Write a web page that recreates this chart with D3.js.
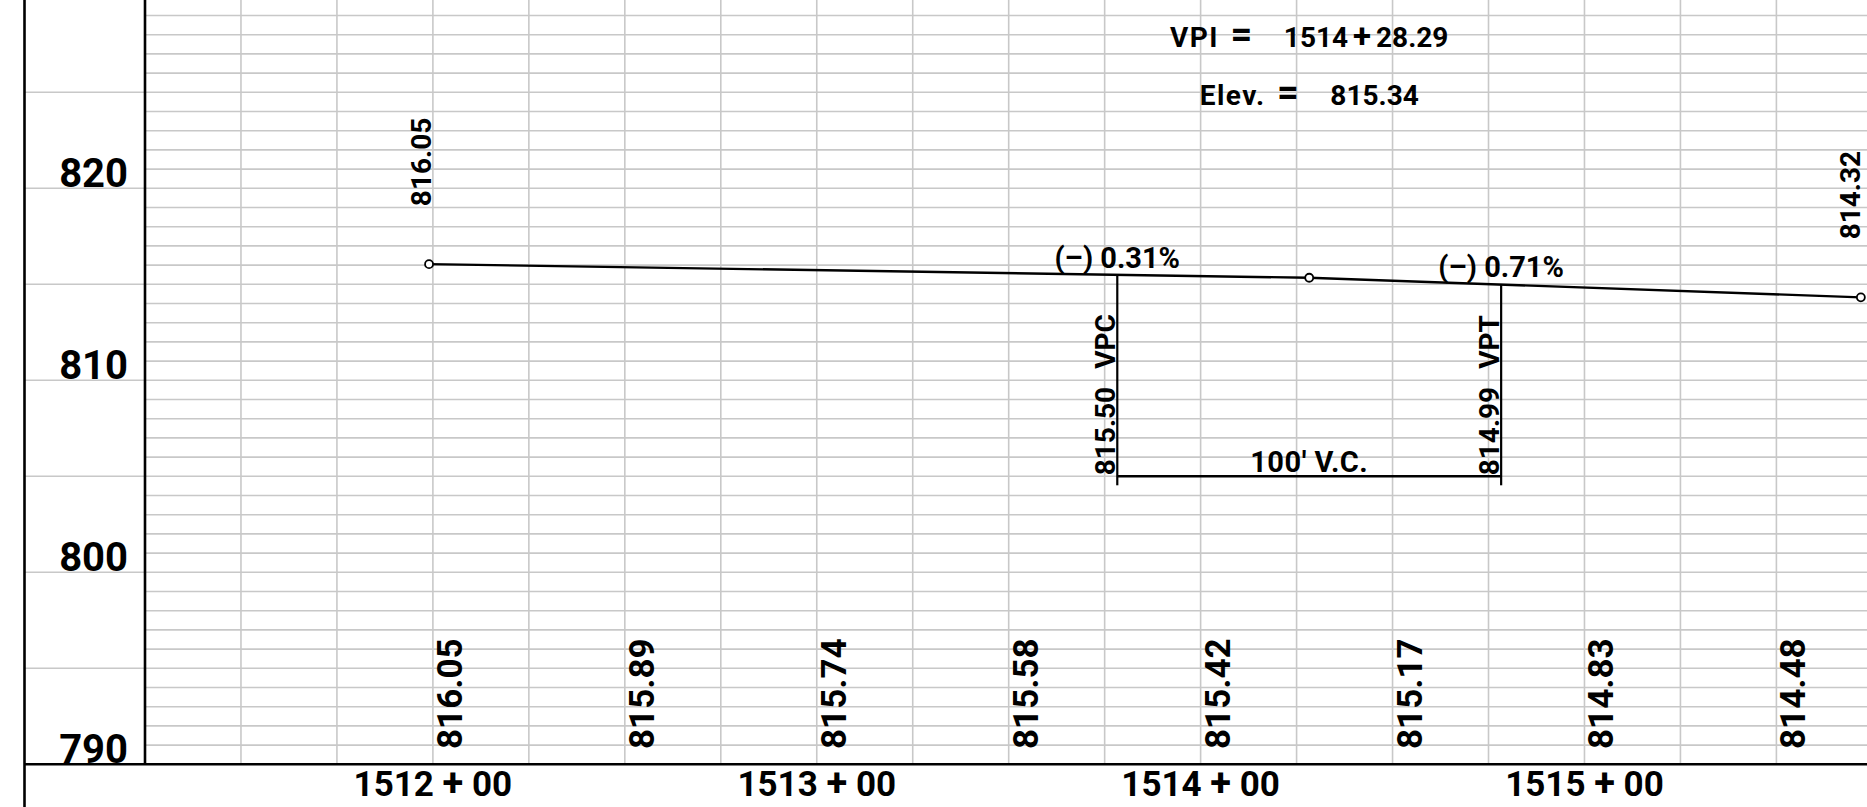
<!DOCTYPE html>
<html>
<head>
<meta charset="utf-8">
<script src="https://cdn.jsdelivr.net/npm/d3@7"></script>
<style>
    html, body { margin: 0; padding: 0; background: #fff; overflow: hidden; }
    text { font-family: Roboto, "Liberation Sans", sans-serif; font-weight: 700; fill: #000; }
</style>
</head>
<body>
<div id="chart"></div>
<script>
// elevation axis
var elevTicks = [790, 800, 810, 820];
// station axis (feet), labels as printed
var stationTicks = [151200, 151300, 151400, 151500];
var stationLabels = ["1512 + 00", "1513 + 00", "1514 + 00", "1515 + 00"];
// grade line: begin, VPI, end
var gradeStations = [151199, 151428.29, 151572];
var gradeElevs = [816.05, 815.34, 814.32];
var endLabels = ["816.05", "814.32"];
// vertical curve
var curveStations = [151378.29, 151478.29];
var curveElevs = [815.50, 814.99];
var curveNames = ["VPC", "VPT"];
var curveElevLabels = ["815.50", "814.99"];
var gradeLabels = ["(–) 0.31%", "(–) 0.71%"];
var curveLengthLabel = "100′ V.C.";
var vpiTitles = ["VPI =", "Elev. ="];
var vpiValues = ["1514 + 28.29", "815.34"];
// profile grade elevations every 50 ft
var profileStations = [151200, 151250, 151300, 151350, 151400, 151450, 151500, 151550];
var profileElevs = ["816.05", "815.89", "815.74", "815.58", "815.42", "815.17", "814.83", "814.48"];

(function() {
    var width = 1867, height = 807;
    var borderX = 24.5, axisX = 145;

    var x = d3.scaleLinear().domain([151125, 151573.6]).range([axisX, width]);
    var y = d3.scaleLinear().domain([790, 830]).range([764.3, -3.7]);

    var svg = d3.select("#chart")
        .append("svg")
        .attr("width", width)
        .attr("height", height)
        .style("display", "block");

    svg.append("rect")
        .attr("width", width)
        .attr("height", height)
        .attr("fill", "#fff");

    // write a label with its + / = a little larger, like the drafting font
    function addParts(textSel, str, symSize) {
        str.split(/([+=])/).forEach(function(p) {
            if (p === "") return;
            var t = textSel.append("tspan").text(p);
            if (p === "+" || p === "=") {
                t.style("font-size", symSize + "px");
            }
        });
    }

    // horizontal grid, one foot apart, every 5 ft runs to the border
    var hLines = d3.range(791, 830);
    svg.append("g").selectAll("line")
        .data(hLines)
        .enter()
        .append("line")
        .attr("x1", function(d) { return d % 5 === 0 ? borderX : axisX; })
        .attr("x2", width)
        .attr("y1", function(d) { return y(d); })
        .attr("y2", function(d) { return y(d); })
        .attr("stroke", "#c8c8c8")
        .attr("stroke-width", 1.6);

    // vertical grid every 25 ft
    var vLines = d3.range(151150, 151573, 25);
    svg.append("g").selectAll("line")
        .data(vLines)
        .enter()
        .append("line")
        .attr("x1", function(d) { return x(d); })
        .attr("x2", function(d) { return x(d); })
        .attr("y1", 0)
        .attr("y2", y(790))
        .attr("stroke", "#c8c8c8")
        .attr("stroke-width", 1.6);

    // frame lines
    var frame = svg.append("g").attr("stroke", "#000").attr("stroke-width", 2.6);
    frame.append("line").attr("x1", borderX).attr("x2", borderX).attr("y1", 0).attr("y2", height);
    frame.append("line").attr("x1", axisX).attr("x2", axisX).attr("y1", 0).attr("y2", y(790));
    frame.append("line").attr("x1", borderX).attr("x2", width).attr("y1", y(790)).attr("y2", y(790));

    // elevation labels
    svg.append("g").selectAll("text")
        .data(elevTicks)
        .enter()
        .append("text")
        .attr("x", 128)
        .attr("y", function(d) { return y(d) - 1.5; })
        .attr("text-anchor", "end")
        .style("font-size", "40px")
        .text(function(d) { return d; });

    // station labels
    svg.append("g").selectAll("text")
        .data(stationTicks)
        .enter()
        .append("text")
        .attr("x", function(d) { return x(d); })
        .attr("y", 796)
        .attr("text-anchor", "middle")
        .style("font-size", "35px")
        .style("white-space", "pre")
        .each(function(d, i) { addParts(d3.select(this), stationLabels[i], 38); });

    // profile elevations along the bottom
    svg.append("g").selectAll("text")
        .data(profileStations)
        .enter()
        .append("text")
        .attr("transform", function(d) {
            return "translate(" + (x(d) + 29) + "," + 749 + ") rotate(-90)";
        })
        .style("font-size", "35px")
        .text(function(d, i) { return profileElevs[i]; });

    // vertical curve: VPC / VPT legs and the length dimension
    var dimElev = 805;
    var curve = svg.append("g").attr("stroke", "#000").attr("stroke-width", 2.2);
    curve.selectAll(".leg")
        .data(curveStations)
        .enter()
        .append("line")
        .attr("class", "leg")
        .attr("x1", function(d) { return x(d); })
        .attr("x2", function(d) { return x(d); })
        .attr("y1", function(d, i) { return y(curveElevs[i]); })
        .attr("y2", y(dimElev) + 9);
    curve.append("line")
        .attr("x1", x(curveStations[0]))
        .attr("x2", x(curveStations[1]))
        .attr("y1", y(dimElev))
        .attr("y2", y(dimElev))
        .attr("stroke-width", 2.6);

    var legText = svg.append("g").selectAll("text")
        .data(curveStations)
        .enter()
        .append("text")
        .attr("transform", function(d) {
            return "translate(" + (x(d) - 2) + "," + (y(dimElev) - 1) + ") rotate(-90)";
        })
        .style("font-size", "28px");
    legText.append("tspan").text(function(d, i) { return curveElevLabels[i]; });
    legText.append("tspan").attr("dx", 18).text(function(d, i) { return curveNames[i]; });

    svg.append("text")
        .attr("x", (x(curveStations[0]) + x(curveStations[1])) / 2)
        .attr("y", y(dimElev) - 4.5)
        .attr("text-anchor", "middle")
        .style("font-size", "29px")
        .style("letter-spacing", "0.5px")
        .text(curveLengthLabel);

    // grade labels over VPC and VPT
    svg.append("g").selectAll("text")
        .data(curveStations)
        .enter()
        .append("text")
        .attr("x", function(d) { return x(d); })
        .attr("y", function(d, i) { return y(curveElevs[i]) - 7; })
        .attr("text-anchor", "middle")
        .style("font-size", "29px")
        .text(function(d, i) { return gradeLabels[i]; });

    // grade line
    var pts = gradeStations.map(function(s, i) { return [x(s), y(gradeElevs[i])]; });
    svg.append("path")
        .attr("d", d3.line()(pts))
        .attr("fill", "none")
        .attr("stroke", "#000")
        .attr("stroke-width", 2.4);
    svg.append("g").selectAll("circle")
        .data(pts)
        .enter()
        .append("circle")
        .attr("cx", function(d) { return d[0]; })
        .attr("cy", function(d) { return d[1]; })
        .attr("r", 4)
        .attr("fill", "#fff")
        .attr("stroke", "#000")
        .attr("stroke-width", 1.8);

    // end elevations, written upward above the end points
    svg.append("g").selectAll("text")
        .data([pts[0], pts[2]])
        .enter()
        .append("text")
        .attr("transform", function(d, i) {
            return "translate(" + (d[0] + (i === 0 ? 2 : -0.5)) + "," + (d[1] - 58) + ") rotate(-90)";
        })
        .style("font-size", "28px")
        .text(function(d, i) { return endLabels[i]; });

    // VPI note
    var note = svg.append("g").selectAll("text")
        .data(vpiTitles)
        .enter()
        .append("text")
        .attr("x", x(gradeStations[1]))
        .attr("y", function(d, i) { return i === 0 ? 46.7 : 105; })
        .attr("text-anchor", "middle")
        .style("font-size", "28px")
        .style("white-space", "pre");
    note.each(function(d, i) {
        var t = d3.select(this);
        var title = t.append("tspan").style("letter-spacing", "1.5px").style("word-spacing", "3px");
        addParts(title, d, 38);
        var v = t.append("tspan").attr("dx", 30).style("word-spacing", "-2px");
        addParts(v, vpiValues[i], 33);
    });
})();
</script>
</body>
</html>
